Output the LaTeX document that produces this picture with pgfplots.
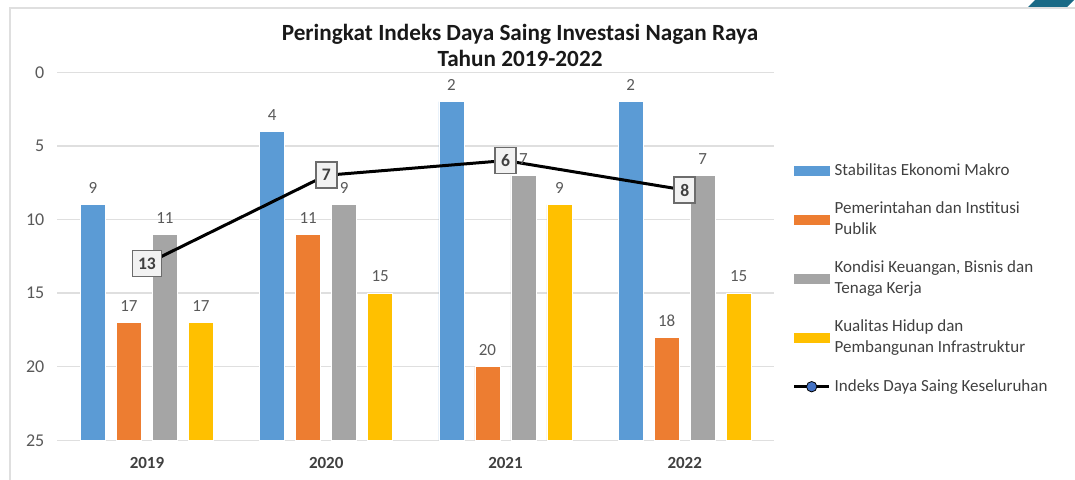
\documentclass[border=0pt]{standalone}
\usepackage{fontspec}
\setmainfont{Carlito}
\usepackage{pgfplots}
\usepackage{pgfplotstable}
\pgfplotsset{compat=1.18}

\definecolor{cBlue}{HTML}{5B9BD5}
\definecolor{cOrange}{HTML}{ED7D31}
\definecolor{cGray}{HTML}{A5A5A5}
\definecolor{cYellow}{HTML}{FFC000}
\definecolor{cMark}{HTML}{4472C4}
\definecolor{txt}{HTML}{595959}
\definecolor{txtdark}{HTML}{404040}
\definecolor{teal}{HTML}{1A6A86}

% ranks; bars are drawn from rank 25 upwards (axis reversed by 25 - value)
\pgfplotstableread{
x year sem pip kkb khp ids
0 2019 9  17 11 17 13
1 2020 4  11 9  15 7
2 2021 2  20 7  9  6
3 2022 2  18 7  15 8
}\ranks

\pgfplotsset{
  rankbar/.style n args={2}{ybar, bar width=12.5pt, bar shift=#1, fill=#2,
    draw=white, line width=0.4pt,
    nodes near coords, point meta=explicit,
    every node near coord/.append style={xshift=#1, yshift=2pt},
    legend image code/.code={\fill[#2] (0pt,-2.2pt) rectangle (17.5pt,2.2pt);}},
}

\begin{document}
\begin{tikzpicture}[x=1pt,y=1pt]
\useasboundingbox (0,0) rectangle (537.5,240);
\draw[gray!25, line width=0.8pt] (5,-5) -- (5,236) -- (545,236);
\fill[teal] (514,236.5) -- (518.5,241) -- (538,241) -- (533.5,236.5) -- cycle;

\node[align=center, font=\fontsize{11.6}{13}\selectfont\bfseries, text=black!90]
  at (260,217.5) {Peringkat Indeks Daya Saing Investasi Nagan Raya\\Tahun 2019-2022};

\begin{axis}[
  at={(32,27)}, anchor=south west,
  scale only axis, width=358.5pt, height=184pt,
  xmin=-0.5, xmax=3.5, ymin=0, ymax=25,
  xtick={0,1,2,3}, xticklabels={2019,2020,2021,2022},
  ytick={0,5,10,15,20,25}, yticklabels={25,20,15,10,5,0},
  major tick length=0pt,
  axis line style={draw=none},
  ymajorgrids, grid style={gray!25, line width=0.7pt},
  /pgf/number format/assume math mode=true,
  yticklabel style={font=\fontsize{9}{10}\selectfont, text=txt, xshift=-3pt},
  xticklabel style={font=\fontsize{8.5}{10}\selectfont\bfseries, text=txtdark, yshift=-5pt},
  every node near coord/.append style={font=\fontsize{8.5}{10}\selectfont, text=txt},
  legend style={at={(1.025,0.764)}, anchor=north west, draw=none, fill=none,
    inner sep=0pt, row sep=7.7pt,
    font=\fontsize{8.5}{10.5}\selectfont, text=txtdark,
    cells={anchor=west, align=left}},
  legend cell align=left,
]
\addplot[rankbar={-27pt}{cBlue}]
  table[x=x, y expr=25-\thisrow{sem}, meta=sem] {\ranks};
\addlegendentry{Stabilitas Ekonomi Makro}
\addplot[rankbar={-9pt}{cOrange}]
  table[x=x, y expr=25-\thisrow{pip}, meta=pip] {\ranks};
\addlegendentry{Pemerintahan dan Institusi\\Publik}
\addplot[rankbar={9pt}{cGray}]
  table[x=x, y expr=25-\thisrow{kkb}, meta=kkb] {\ranks};
\addlegendentry{Kondisi Keuangan, Bisnis dan\\Tenaga Kerja}
\addplot[rankbar={27pt}{cYellow}]
  table[x=x, y expr=25-\thisrow{khp}, meta=khp] {\ranks};
\addlegendentry{Kualitas Hidup dan\\Pembangunan Infrastruktur}
\addplot[sharp plot, black, line width=1.5pt, mark=none,
  nodes near coords, point meta=explicit,
  nodes near coords align=center,
  every node near coord/.append style={anchor=center, draw=gray!85!black, fill=gray!10,
    line width=0.8pt, text=txtdark, font=\fontsize{8.8}{10}\selectfont\bfseries,
    inner sep=2.8pt, minimum height=13pt, minimum width=10.5pt},
  legend image code/.code={
    \draw[black, line width=1.5pt] (0pt,0pt) -- (17.5pt,0pt);
    \draw[black, fill=cMark, line width=0.4pt] (8.75pt,0pt) circle (2.6pt);}]
  table[x=x, y expr=25-\thisrow{ids}, meta=ids] {\ranks};
\addlegendentry{Indeks Daya Saing Keseluruhan}
\end{axis}
\end{tikzpicture}
\end{document}
